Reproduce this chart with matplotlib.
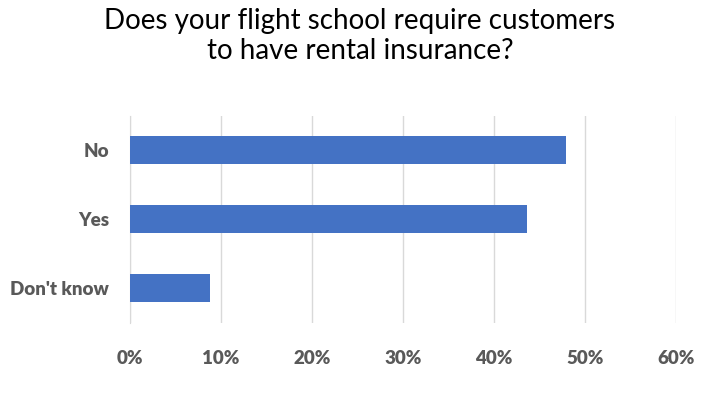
import matplotlib
matplotlib.use("Agg")
import matplotlib.pyplot as plt
from matplotlib.ticker import FuncFormatter

categories = ["No", "Yes", "Don't know"]
values = [47.9, 43.6, 8.8]
xticks = [0, 10, 20, 30, 40, 50, 60]

plt.rcParams['font.family'] = ['Lato', 'DejaVu Sans']

fig = plt.figure(figsize=(7.2, 4.05), dpi=100)
ax = fig.add_axes([130/720, 1-322.5/405, (676-130)/720, (322.5-115.5)/405])

ypos = list(range(len(categories)))
ax.barh(ypos, values, height=0.4, color="#4472C4", zorder=3)
ax.set_ylim(len(categories)-0.5, -0.5)
ax.set_xlim(0, 60)
ax.set_xticks(xticks)
ax.xaxis.set_major_formatter(FuncFormatter(lambda v, p: f"{int(v)}%"))
ax.set_yticks(ypos)
ax.set_yticklabels(categories)
ax.grid(axis="x", color="#D9D9D9", linewidth=1, zorder=0)
for s in ["top", "right", "bottom"]:
    ax.spines[s].set_visible(False)
ax.spines["left"].set_color("#D9D9D9")
ax.tick_params(axis="both", length=0, labelsize=13.5, labelcolor="#595959")
ax.tick_params(axis="x", pad=20)
ax.tick_params(axis="y", pad=15)
for lab in ax.get_xticklabels() + ax.get_yticklabels():
    lab.set_fontweight("heavy")

fig.text(0.5, 1-36/405, "Does your flight school require customers\nto have rental insurance?",
         ha="center", va="center", fontsize=20, color="#000000", linespacing=1.2)

fig.savefig("out.png", dpi=100, facecolor="white")
